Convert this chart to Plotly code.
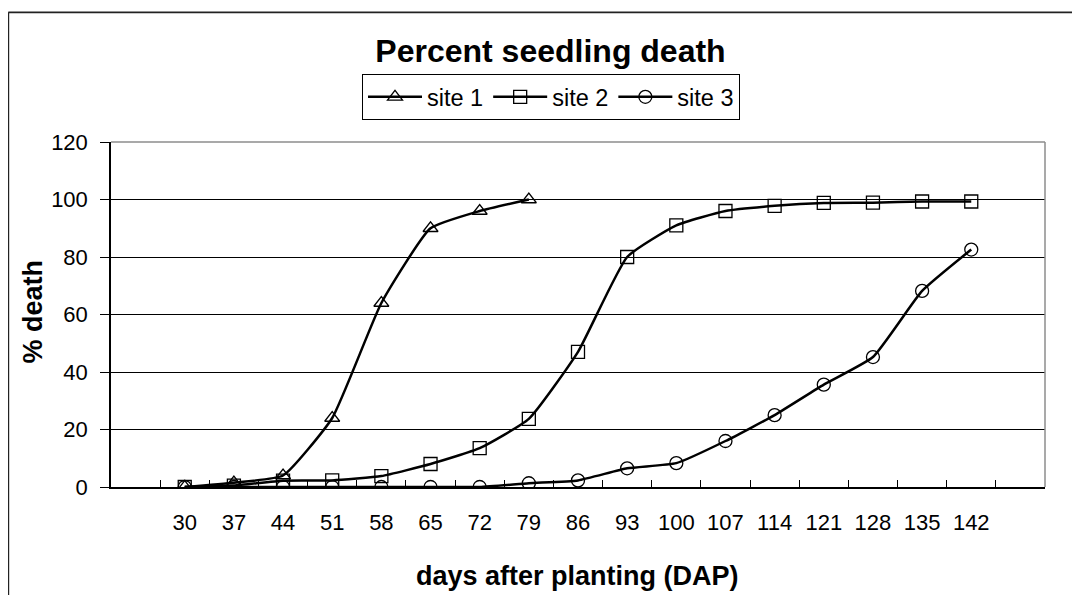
import plotly.graph_objects as go

# ---- data ----
days = ["30", "37", "44", "51", "58", "65", "72", "79", "86", "93",
        "100", "107", "114", "121", "128", "135", "142"]
site1 = [0, 1.5, 4, 24, 64, 90, 96, 100]
site2 = [0, 0.5, 2.2, 2.3, 3.8, 8, 13.5, 23.7, 47, 80, 91, 96, 97.8, 98.8, 98.9, 99.3, 99.3]
site3 = [0, 0, 0, 0, 0, 0, 0, 1.3, 2.3, 6.5, 8.3, 16, 25, 35.6, 45.2, 68.2, 82.6]
series_names = ["site 1", "site 2", "site 3"]
y_ticks = [0, 20, 40, 60, 80, 100, 120]

# ---- layout geometry ----
# the page body has an 8px margin, so the figure is drawn 8px in from the window edge
OFF = 8
FW, FH = 1080 - OFF, 595 - OFF
PLOT_L, PLOT_R, PLOT_T, PLOT_B = 111, 1045, 142, 487   # window pixels
L, R, T, B = PLOT_L - OFF, FW - (PLOT_R - OFF), PLOT_T - OFF, FH - (PLOT_B - OFF)
PW, PH = FW - L - R, FH - T - B


def px_x(px):
    """window-pixel x -> paper coordinate"""
    return (px - OFF - L) / PW


def px_y(py):
    """window-pixel y -> paper coordinate"""
    return (FH - B - (py - OFF)) / PH


FONT = "Arial, Liberation Sans, sans-serif"

fig = go.Figure()
symbols = ["triangle-up-open", "square-open", "circle-open"]
for name, vals, sym in zip(series_names, [site1, site2, site3], symbols):
    fig.add_trace(go.Scatter(
        x=days[:len(vals)], y=vals, name=name, mode="lines+markers",
        line=dict(color="black", width=2.5, shape="spline", smoothing=0.45),
        marker=dict(symbol=sym, size=13, color="black",
                    line=dict(color="black", width=1.3)),
    ))

fig.update_layout(
    width=FW, height=FH,
    margin=dict(l=L, r=R, t=T, b=B, pad=0),
    paper_bgcolor="white", plot_bgcolor="white",
    font=dict(family=FONT, color="black", size=22),
    title=dict(text="<b>Percent seedling death</b>", xref="container", yref="container",
               x=(550.5 - OFF) / FW, y=1 - (51 - OFF) / FH, xanchor="center", yanchor="middle",
               font=dict(size=32, family=FONT, color="black")),
    showlegend=True,
    legend=dict(orientation="h", x=px_x(551), y=px_y(74), xanchor="center", yanchor="top",
                bordercolor="black", borderwidth=1, bgcolor="white",
                font=dict(size=23.5, family=FONT, color="black"),
                itemwidth=54, tracegroupgap=0),
    xaxis=dict(type="category", categoryorder="array", categoryarray=days,
               range=[-1.5, len(days) + 0.5], tickson="boundaries",
               ticks="inside", ticklen=7, tickcolor="black", tickwidth=1,
               showline=True, linecolor="black", linewidth=1.5,
               showgrid=False, zeroline=False,
               tickfont=dict(size=22, family=FONT, color="black"),
               ticklabelstandoff=15, fixedrange=True),
    yaxis=dict(range=[0, 120], tickvals=y_ticks, ticks="outside", ticklen=9,
               tickcolor="black", tickwidth=1,
               showline=True, linecolor="black", linewidth=1.5,
               showgrid=True, gridcolor="black", gridwidth=1, zeroline=False,
               tickfont=dict(size=22, family=FONT, color="black"),
               ticklabelstandoff=8, fixedrange=True),
)

# plot-area top and right border (grey)
fig.add_shape(type="line", xref="x domain", yref="y domain", x0=0, x1=1, y0=1, y1=1,
              line=dict(color="#8c8c8c", width=1.5))
fig.add_shape(type="line", xref="x domain", yref="y domain", x0=1, x1=1, y0=0, y1=1,
              line=dict(color="#8c8c8c", width=1.5))

# outer chart border (left and top, extends past the frame)
fig.add_shape(type="line", xref="paper", yref="paper", x0=px_x(8.3), x1=px_x(8.3),
              y0=px_y(12.3), y1=px_y(600), line=dict(color="#222222", width=1.8))
fig.add_shape(type="line", xref="paper", yref="paper", x0=px_x(8.3), x1=px_x(1085),
              y0=px_y(12.3), y1=px_y(12.3), line=dict(color="#222222", width=1.8))

# axis titles
fig.add_annotation(text="<b>% death</b>", xref="paper", yref="paper",
                   x=px_x(32.5), y=px_y(312), textangle=-90, showarrow=False,
                   xanchor="center", yanchor="middle",
                   font=dict(size=27, family=FONT, color="black"))
fig.add_annotation(text="<b>days after planting (DAP)</b>", xref="paper", yref="paper",
                   x=px_x(577), y=px_y(576), showarrow=False,
                   xanchor="center", yanchor="middle",
                   font=dict(size=27, family=FONT, color="black"))

fig.write_html("out.html")
